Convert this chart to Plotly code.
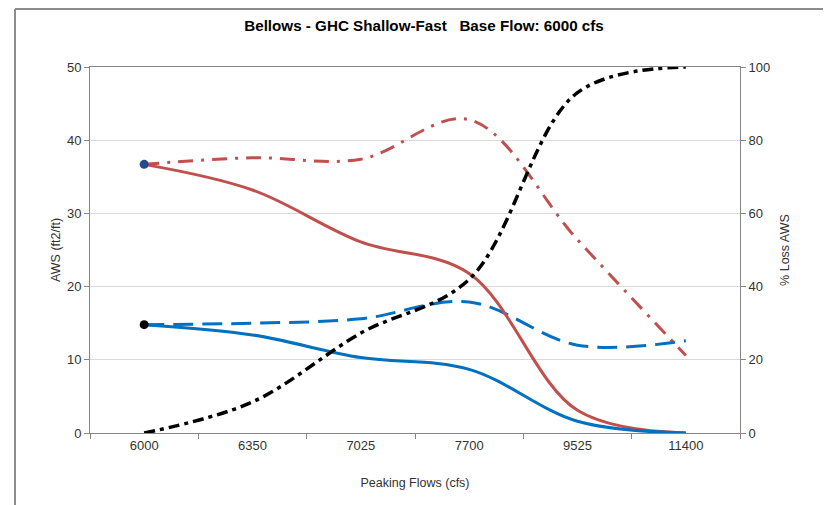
import plotly.graph_objects as go

categories = ["6000", "6350", "7025", "7700", "9525", "11400"]
aws_red_solid = [36.7, 33.2, 26.1, 21.8, 3.1, 0.0]
aws_blue_solid = [14.8, 13.4, 10.3, 8.7, 1.6, 0.0]
aws_red_dashdot = [36.7, 37.6, 37.4, 42.8, 26.4, 10.6]
aws_blue_dashed = [14.8, 15.0, 15.6, 17.9, 12.0, 12.6]
pct_loss_black = [0.0, 8.5, 27.3, 42.0, 93.0, 100.0]

RED = "#C0504D"
BLUE = "#0070C0"
FONT = "Liberation Sans, Arial, sans-serif"

# page body has an 8px margin; figure laid out to sit at window (8,8)
W, H = 823, 497
L, T, R, B = 82, 59, 91, 72
PW, PH = W - L - R, H - T - B

fig = go.Figure()

fig.add_trace(go.Scatter(x=categories, y=aws_red_dashdot, mode="lines",
                         line=dict(color=RED, width=3, shape="spline", dash="15px,8px,3px,8px"),
                         yaxis="y"))
fig.add_trace(go.Scatter(x=categories, y=aws_blue_dashed, mode="lines",
                         line=dict(color=BLUE, width=3, shape="spline", dash="20px,9px"),
                         yaxis="y"))
fig.add_trace(go.Scatter(x=categories, y=pct_loss_black, mode="lines",
                         line=dict(color="black", width=3.5, shape="spline", dash="11px,5px,4px,5px"),
                         yaxis="y2"))
fig.add_trace(go.Scatter(x=categories, y=aws_red_solid, mode="lines",
                         line=dict(color=RED, width=3, shape="spline"),
                         yaxis="y"))
fig.add_trace(go.Scatter(x=categories, y=aws_blue_solid, mode="lines",
                         line=dict(color=BLUE, width=3, shape="spline"),
                         yaxis="y"))
# first-point markers
fig.add_trace(go.Scatter(x=categories[:1], y=aws_red_solid[:1], mode="markers",
                         marker=dict(color="#1F4E8C", size=9), yaxis="y"))
fig.add_trace(go.Scatter(x=categories[:1], y=aws_blue_solid[:1], mode="markers",
                         marker=dict(color="black", size=9), yaxis="y"))

axis_line = "#868686"
tickfont = dict(family=FONT, size=13, color="#333333")
titlefont = dict(family=FONT, size=12.5, color="#333333")

border_x = (15 - 8 - L) / PW
border_top = 1 + (T - 1) / PH

fig.update_layout(
    width=W, height=H, autosize=False,
    margin=dict(l=L, r=R, t=T, b=B),
    paper_bgcolor="white", plot_bgcolor="white",
    showlegend=False,
    font=dict(family=FONT, size=12, color="#333333"),
    title=dict(text="<b>Bellows - GHC Shallow-Fast   Base Flow: 6000 cfs</b>",
               x=(424 - 8) / W, xref="container", xanchor="center",
               y=1 - (26 - 8) / H, yref="container", yanchor="middle",
               font=dict(family=FONT, size=15.2, color="black")),
    xaxis=dict(type="category", categoryorder="array", categoryarray=categories,
               range=[-0.5, 5.5], showgrid=False, showline=True, mirror=True,
               linecolor=axis_line, linewidth=1,
               ticks="outside", tickson="boundaries", ticklen=5, tickcolor=axis_line,
               tickfont=tickfont,
               title=dict(text="Peaking Flows (cfs)", standoff=26, font=titlefont)),
    yaxis=dict(range=[0, 50], dtick=10, showgrid=True, gridcolor="#D9D9D9", gridwidth=1,
               showline=True, linecolor=axis_line, ticks="outside", ticklen=5,
               tickcolor=axis_line, tickfont=tickfont, zeroline=False,
               title=dict(text="AWS (ft2/ft)", standoff=3, font=titlefont)),
    yaxis2=dict(range=[0, 100], dtick=20, overlaying="y", side="right", showgrid=False,
                showline=True, linecolor=axis_line, ticks="outside", ticklen=5,
                tickcolor=axis_line, tickfont=tickfont, zeroline=False,
                title=dict(text="% Loss AWS", standoff=10, font=titlefont)),
    shapes=[
        dict(type="line", xref="paper", yref="paper",
             x0=border_x, x1=(W - L) / PW,
             y0=border_top, y1=border_top,
             line=dict(color="#8C8C8C", width=2)),
        dict(type="line", xref="paper", yref="paper",
             x0=border_x, x1=border_x,
             y0=border_top, y1=-B / PH,
             line=dict(color="#8C8C8C", width=2)),
    ],
)

fig.write_html("out.html")
